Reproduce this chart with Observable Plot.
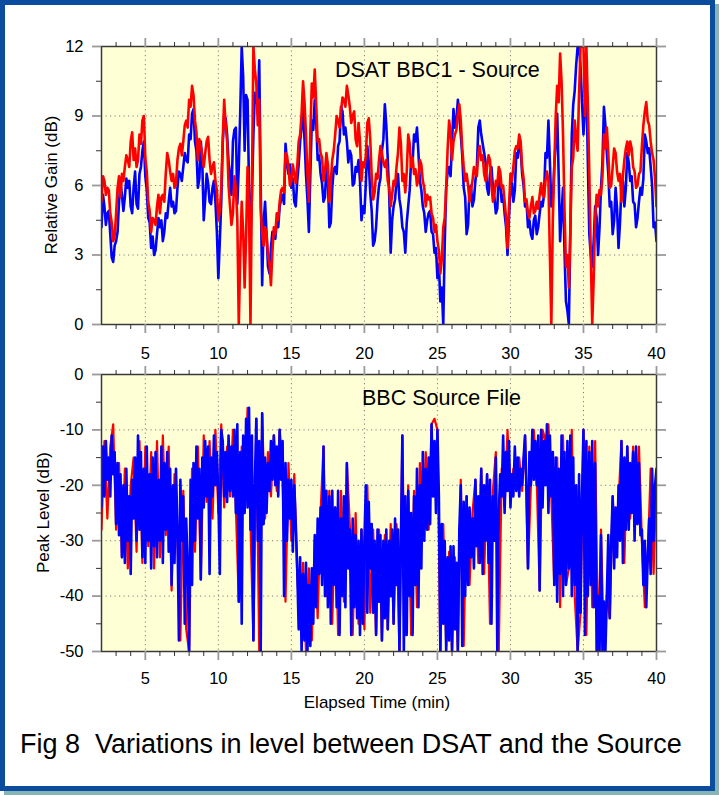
<!DOCTYPE html>
<html><head><meta charset="utf-8">
<script src="https://cdn.jsdelivr.net/npm/d3@7"></script>
<script src="https://cdn.jsdelivr.net/npm/@observablehq/plot@0.6"></script>
<style>
html,body{margin:0;padding:0;background:#fff;}
#page{position:relative;width:719px;height:795px;overflow:hidden;font-family:'Liberation Sans',Arial,Helvetica,sans-serif;}
#border{position:absolute;left:0;top:0;width:705px;height:781px;border:5px solid #0c4c9e;box-shadow:4px 4px 0 #86b5b5;background:#fff;}
#p1,#p2,#overlay{position:absolute;left:0;}
#p1{top:0;}#p2{top:360px;}#overlay{top:0;pointer-events:none;}
#overlay text{font-family:'Liberation Sans',Arial,Helvetica,sans-serif;fill:#000;}
</style></head>
<body>
<div id="page">
<div id="border"></div>
<div id="p1"></div>
<div id="p2"></div>
<svg id="overlay" width="719" height="795">
  <text x="335" y="77" font-size="21.5">DSAT BBC1 - Source</text>
  <text x="362" y="405" font-size="21.5">BBC Source File</text>
  <text transform="translate(57,185) rotate(-90)" text-anchor="middle" font-size="17">Relative Gain (dB)</text>
  <text transform="translate(49,512.5) rotate(-90)" text-anchor="middle" font-size="17">Peak Level (dB)</text>
  <text x="377" y="708" text-anchor="middle" font-size="17">Elapsed Time (min)</text>
  <text x="20" y="752.5" font-size="27" style="white-space:pre">Fig 8  Variations in level between DSAT and the Source</text>
</svg>
</div>
<script>
// ---- data (minutes start at 2.0; sampled every 0.1 min, bottom red every 0.2 min) ----
const startMin = 2;
const topStep = 0.1;
const bottomBlueStep = 0.1;
const bottomRedStep = 0.2;

// DSAT BBC1 - Source, relative gain (dB)
const gainBlue = [
4.2,5.6,5.1,4.3,4.8,4.9,3.9,2.9,2.7,3.4,3.6,4.0,5.3,6.1,5.6,4.9,5.5,6.3,5.9,6.2,
5.1,4.8,5.9,6.6,5.2,5.0,6.5,6.8,7.5,7.9,6.4,5.8,4.6,4.4,3.3,3.8,3.0,3.2,3.9,4.6,
4.2,4.5,3.6,4.0,4.8,4.6,5.3,5.9,5.1,5.3,4.8,4.9,5.9,6.6,6.5,6.2,6.8,7.4,7.1,7.0,
8.2,8.0,9.1,9.3,7.9,7.5,5.9,6.3,7.9,7.0,4.5,5.4,6.5,6.1,5.3,5.2,5.9,6.2,5.3,4.0,
2.0,3.6,5.3,7.8,9.0,8.9,8.2,7.0,6.5,5.6,7.9,8.4,8.5,5.2,6.8,9.2,12,10.7,7.5,9.9,
9.7,6.0,3.9,5.5,8.2,10.0,9.7,9.4,11.4,6.0,1.7,4.4,5.3,3.9,2.5,2.2,3.3,4.0,3.9,3.7,
4.5,4.2,5.1,5.4,5.6,5.2,7.8,7.0,6.5,6.9,5.9,6.3,5.3,5.1,6.2,6.9,7.9,8.5,9.4,8.0,
6.5,5.4,4.0,6.5,8.8,8.4,9.7,8.8,7.1,7.3,6.5,6.1,5.3,5.5,6.8,6.3,4.2,4.4,5.9,6.7,
6.8,6.5,7.7,7.9,9.4,9.2,8.2,8.5,7.9,7.0,7.5,7.3,6.0,6.1,6.8,6.6,7.1,6.2,4.5,5.1,
4.8,6.1,7.7,7.0,5.7,4.9,3.4,3.6,4.2,5.3,6.0,6.3,7.5,8.0,9.5,8.6,7.1,5.6,3.1,4.5,
5.1,5.4,6.2,6.5,5.4,5.0,4.2,4.0,3.1,4.4,5.1,5.8,7.1,7.0,8.2,7.9,8.5,7.4,6.2,5.8,
5.1,4.8,4.0,4.5,4.8,4.9,4.0,3.9,3.1,3.3,2.0,2.6,1.0,1.6,0,3.5,5.9,6.6,6.8,6.4,
7.9,9.3,8.5,8.8,9.7,9.0,8.2,7.3,5.9,5.5,3.9,4.3,5.9,6.0,5.1,5.4,6.2,6.8,8.5,8.8,
8.2,7.8,7.4,7.0,5.9,5.6,6.5,6.8,5.9,5.5,4.8,5.0,6.5,6.2,5.3,5.6,4.8,4.2,3.0,4.6,
5.9,6.1,5.3,5.8,7.4,7.2,7.9,7.6,6.5,6.0,5.1,5.3,4.2,4.5,3.9,3.7,4.5,4.7,3.9,4.2,
4.8,5.3,5.1,5.6,7.4,7.2,8.8,7.0,5.1,5.4,6.8,7.9,9.1,6.5,3.6,4.8,5.9,3.2,1.0,0.6,
0,4.0,8.2,9.5,10.1,11.2,12,12,11.1,9.6,8.2,9.4,10.4,7.0,3.9,3.0,2.5,3.6,5.1,4.6,
3.0,4.2,5.9,7.0,9.4,8.6,7.4,6.5,5.1,5.3,3.9,4.5,5.9,5.0,3.3,4.4,5.9,6.2,5.1,5.9,
7.4,7.0,6.2,6.4,5.3,5.2,4.2,4.6,5.3,5.9,5.6,6.3,8.2,7.9,7.4,7.6,6.8,6.0,4.2,4.4,
3.6];
const gainRed = [
5.3,6.4,6.2,5.6,5.9,5.8,4.8,4.4,3.6,3.8,4.8,5.9,6.4,5.5,6.5,6.2,6.8,7.3,7.1,6.8,
7.9,8.3,7.1,7.6,6.8,7.1,8.2,7.8,8.8,9.0,7.2,6.6,5.3,4.9,4.0,4.6,4.5,4.3,5.1,5.6,
4.8,5.5,5.6,5.3,6.5,7.4,7.1,6.6,6.2,6.5,5.9,6.1,7.1,7.6,7.8,7.3,7.9,8.6,8.8,8.5,
9.7,9.4,10.3,9.9,8.8,8.3,7.1,8.0,7.7,7.3,6.8,7.4,7.9,8.1,7.1,6.5,6.8,7.0,6.2,5.8,
4.5,4.9,5.9,8.0,9.7,8.6,7.9,6.0,5.1,4.3,4.8,6.4,5.9,4.5,0,3.0,5.3,4.0,1.6,3.8,
6.8,5.0,0,6.0,12,11.0,10.4,8.6,9.7,5.0,3.9,3.4,4.2,3.9,3.0,2.6,1.7,3.1,4.2,3.9,
4.8,4.5,5.3,5.8,5.9,5.7,7.4,7.3,6.8,6.0,6.2,6.9,6.5,6.1,6.8,7.9,8.2,9.1,10.5,9.6,
8.2,6.5,5.3,8.3,10.4,9.8,11.0,9.5,7.9,8.0,7.4,7.2,6.2,6.6,7.4,6.9,5.3,6.2,7.1,7.5,
8.2,9.0,8.8,8.5,9.2,9.8,9.7,9.4,10.3,9.9,9.4,8.7,9.0,9.2,8.0,7.7,8.7,7.9,6.2,7.0,
6.8,7.3,8.7,8.9,8.0,6.4,5.4,5.7,6.5,6.3,7.1,7.7,7.4,7.0,6.8,7.1,6.2,5.9,5.1,5.6,
6.2,6.0,6.8,7.4,8.5,7.8,6.2,6.5,5.7,6.6,8.2,7.8,6.8,7.2,6.5,6.7,6.0,6.3,7.1,6.9,
6.2,5.9,5.1,5.6,5.4,5.5,4.8,4.6,4.0,4.3,3.6,3.2,2.2,2.8,4.2,4.6,5.9,7.6,8.8,8.3,
7.1,7.9,8.2,8.4,9.1,9.5,8.8,7.6,6.8,6.2,6.5,6.0,5.3,5.8,6.2,6.8,6.5,6.4,7.4,7.7,
7.1,7.3,6.5,6.2,6.8,7.3,7.1,6.0,5.3,5.6,6.2,6.0,6.8,6.6,5.9,6.0,5.3,4.6,3.3,5.0,
6.5,6.2,6.8,7.5,7.7,7.6,8.2,7.9,6.8,6.3,5.3,5.4,4.8,4.6,5.1,5.5,4.8,4.9,5.3,5.0,
5.6,6.1,5.6,5.5,6.2,6.6,6.2,3.0,0,4.5,6.8,9.0,10.3,9.6,11.7,10.5,8.2,5.0,2.5,3.0,
1.6,4.0,6.8,7.2,8.8,8.0,7.5,10.0,12,12,12,9.0,12,9.5,6.5,3.0,0,2.0,4.6,5.6,
5.1,5.8,5.6,6.4,8.2,7.6,8.5,7.4,5.9,6.0,6.8,7.6,7.4,6.6,6.2,6.5,5.3,6.4,7.1,7.6,
7.9,7.3,7.9,7.6,6.8,6.6,5.9,6.0,6.5,6.6,7.7,8.6,9.2,9.6,8.8,8.6,7.9,7.4,7.1,6.3,
5.1];

// BBC Source File, peak level (dB)
const peakBlue = [
-24,-13,-22,-12,-19,-15,-22,-11,-18,-14,
-27,-16,-29,-18,-33,-20,-34,-17,-30,-22,
-36,-19,-26,-15,-30,-11,-28,-14,-33,-17,
-34,-13,-30,-18,-35,-15,-31,-14,-33,-19,
-30,-13,-34,-16,-28,-14,-32,-17,-38,-20,
-34,-17,-28,-48,-19,-30,-22,-45,-26,-35,
-50,-19,-38,-16,-30,-13,-26,-17,-37,-15,
-24,-12,-22,-13,-36,-15,-22,-11,-20,-14,
-22,-36,-10,-12,-22,-14,-23,-11,-21,-13,
-22,-10,-25,-9,-41,-14,-45,-11,-25,-8,
-24,-6,-28,-11,-48,-20,-8,-30,-12,-50,
-7,-27,-15,-25,-16,-21,-12,-19,-11,-20,
-13,-22,-10,-19,-12,-40,-16,-30,-19,-26,
-19,-32,-20,-27,-35,-46,-33,-50,-36,-48,
-34,-50,-38,-49,-35,-45,-29,-42,-26,-36,
-24,-38,-13,-40,-21,-42,-22,-45,-21,-38,
-24,-42,-21,-47,-26,-40,-22,-42,-16,-35,
-28,-47,-26,-42,-29,-44,-30,-47,-28,-45,
-30,-20,-43,-23,-35,-27,-43,-30,-47,-28,
-41,-29,-48,-30,-44,-28,-46,-30,-40,-28,
-45,-26,-38,-28,-50,-30,-11,-50,-22,-47,
-21,-40,-25,-47,-22,-38,-17,-42,-20,-35,
-14,-30,-17,-28,-15,-27,-9,-22,-12,-25,
-10,-22,-50,-27,-45,-30,-50,-33,-48,-31,
-50,-31,-46,-34,-50,-28,-20,-49,-23,-40,
-22,-38,-24,-33,-26,-35,-19,-31,-22,-34,
-17,-36,-20,-30,-18,-34,-19,-45,-22,-30,
-15,-50,-25,-18,-22,-11,-25,-14,-21,-12,
-24,-18,-22,-13,-21,-15,-22,-17,-20,-15,
-11,-21,-35,-14,-20,-10,-19,-12,-20,-11,
-39,-10,-24,-12,-20,-9,-25,-11,-22,-14,
-38,-15,-41,-17,-36,-11,-40,-14,-38,-12,
-35,-11,-40,-15,-38,-20,-50,-18,-43,-22,
-10,-47,-12,-40,-14,-38,-12,-42,-16,-50,
-40,-50,-29,-50,-41,-50,-40,-29,-44,-30,
-22,-35,-24,-33,-20,-30,-12,-34,-15,-28,
-13,-28,-16,-25,-14,-30,-13,-27,-16,-29,
-28,-38,-30,-42,-33,-26,-36,-17,-30,-20,
-17];
const peakRed = [
-28,-12,-26,-13,-9,-28,-16,-33,-17,-35,
-20,-15,-32,-12,-34,-13,-31,-14,-35,-12,
-33,-11,-29,-13,-39,-18,-30,-48,-21,-46,
-50,-17,-32,-13,-37,-11,-23,-12,-26,-10,
-25,-9,-24,-13,-22,-10,-24,-41,-13,-24,
-6,-27,-48,-8,-50,-7,-26,-14,-22,-11,
-21,-10,-19,-41,-16,-30,-18,-36,-46,-34,
-50,-35,-48,-30,-44,-25,-13,-40,-21,-45,
-24,-47,-21,-41,-16,-27,-47,-25,-45,-28,
-46,-20,-43,-28,-47,-28,-48,-29,-46,-27,
-45,-27,-50,-11,-47,-20,-47,-21,-42,-16,
-30,-14,-28,-9,-8,-10,-50,-27,-49,-32,
-50,-33,-50,-19,-49,-22,-38,-25,-19,-34,
-17,-36,-18,-45,-21,-14,-50,-17,-24,-10,
-22,-17,-20,-15,-21,-11,-35,-20,-10,-19,
-39,-10,-12,-9,-22,-38,-15,-42,-11,-38,
-35,-10,-40,-50,-43,-10,-47,-13,-42,-12,
-50,-28,-50,-40,-44,-22,-33,-23,-12,-34,
-13,-26,-13,-27,-13,-30,-42,-33,-17,-36,
-18];

// axes
const xMajor = [5, 10, 15, 20, 25, 30, 35, 40];
const xGrid = [5, 10, 15, 20, 25, 30, 35];
const xMinor = [3,4,6,7,8,9,11,12,13,14,16,17,18,19,21,22,23,24,26,27,28,29,31,32,33,34,36,37,38,39];
const gainMajor = [0, 3, 6, 9, 12];
const gainMinor = [1.5, 4.5, 7.5, 10.5];
const gainGrid = [3, 6, 9];
const peakMajor = [-50, -40, -30, -20, -10, 0];
const peakMinor = [-45, -35, -25, -15, -5];
const peakGrid = [-40, -30, -20, -10];

const FONT = "'Liberation Sans', Arial, Helvetica, sans-serif";
const toRows = (vals, step) => vals.map((v, i) => ({t: +(startMin + i * step).toFixed(2), v}));

function panel(o) {
  const gridStyle = {stroke: "#7d7d7d", strokeOpacity: 1, strokeWidth: 1, strokeDasharray: "1.2,3.3"};
  const tickMarks = [];
  for (const a of ["top", "bottom"]) {
    tickMarks.push(Plot.axisX(xMajor, {anchor: a, tickSize: 9, stroke: "#9a9a9a", strokeWidth: 1.8, fill: "none", label: null}));
    tickMarks.push(Plot.axisX(xMinor, {anchor: a, tickSize: 5, stroke: "#333", strokeWidth: 1, fill: "none", label: null}));
  }
  for (const a of ["left", "right"]) {
    tickMarks.push(Plot.axisY(o.yMajor, {anchor: a, tickSize: 9, stroke: "#9a9a9a", strokeWidth: 1.8, fill: "none", label: null}));
    tickMarks.push(Plot.axisY(o.yMinor, {anchor: a, tickSize: 5, stroke: "#333", strokeWidth: 1, fill: "none", label: null}));
  }
  return Plot.plot({
    width: 719, height: o.height,
    marginLeft: 101, marginRight: 63, marginTop: o.mt, marginBottom: o.mb,
    x: {domain: [2, 40]},
    y: {domain: o.yDomain},
    style: {fontFamily: FONT, fontSize: "16.5px", background: "transparent", overflow: "visible", color: "#000"},
    marks: [
      Plot.frame({fill: "#ffffd5", stroke: "none"}),
      Plot.gridX(xGrid, gridStyle),
      Plot.gridY(o.yGrid, gridStyle),
      ...o.lines,
      Plot.frame({stroke: "#3a3a3a", strokeWidth: 1.5}),
      ...tickMarks,
      Plot.axisX(xMajor, {anchor: "bottom", tickSize: 0, tickPadding: o.xPad, label: null, fill: "#000", tickFormat: d => `${d}`}),
      Plot.axisY(o.yMajor, {anchor: "left", tickSize: 0, tickPadding: 18, label: null, fill: "#000", tickFormat: d => `${d}`})
    ]
  });
}

const lineOpts = {x: "t", y: "v", clip: true, strokeLinejoin: "round"};

document.getElementById("p1").append(panel({
  height: 360, mt: 46, mb: 36, xPad: 23,
  yDomain: [0, 12], yMajor: gainMajor, yMinor: gainMinor, yGrid: gainGrid,
  lines: [
    Plot.line(toRows(gainBlue, topStep), {...lineOpts, stroke: "#0000ff", strokeWidth: 2.6}),
    Plot.line(toRows(gainRed, topStep), {...lineOpts, stroke: "#ff0000", strokeWidth: 2.6})
  ]
}));

document.getElementById("p2").append(panel({
  height: 351, mt: 14, mb: 60, xPad: 21,
  yDomain: [-50, 0], yMajor: peakMajor, yMinor: peakMinor, yGrid: peakGrid,
  lines: [
    Plot.line(toRows(peakRed, bottomRedStep), {...lineOpts, stroke: "#ff0000", strokeWidth: 2.2}),
    Plot.line(toRows(peakBlue, bottomBlueStep), {...lineOpts, stroke: "#0000ff", strokeWidth: 2.6})
  ]
}));
</script>
</body></html>
